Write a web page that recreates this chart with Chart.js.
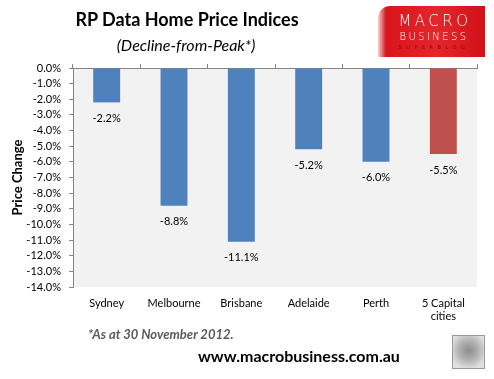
<!DOCTYPE html>
<html><head><meta charset="utf-8">
<script src="https://cdn.jsdelivr.net/npm/chart.js@4/dist/chart.umd.min.js"></script>
<style>
html,body{margin:0;padding:0;background:#fff;}
#wrap{position:relative;width:494px;height:379px;overflow:hidden;background:#fff;}
#c{position:absolute;left:0;top:0;}
.t{position:absolute;white-space:nowrap;font-family:Lato,"Noto Sans",sans-serif;line-height:1.2;}
</style></head><body>
<div id="wrap">
<canvas id="c" width="494" height="379"></canvas>
<div class="t" style="left:187px;top:9px;transform:translateX(-50%);font-size:18px;font-weight:bold;color:#000;">RP Data Home Price Indices</div>
<div class="t" style="left:186px;top:35px;transform:translateX(-50%);font-size:16px;font-style:italic;color:#000;">(Decline-from-Peak*)</div>
<div id="logo" style="position:absolute;left:378px;top:6px;width:107px;height:51px;background:linear-gradient(90deg,#f3d0d0 0px,#d8151b 8px,#e5262b 55%,#d01118 100%);border-radius:12px 0 0 0;">
  <div class="t" style="left:0;width:114px;top:8px;text-align:center;font-family:'DejaVu Sans',sans-serif;font-weight:200;font-size:15px;letter-spacing:3.5px;color:#fff;line-height:1;">MACRO</div>
  <div class="t" style="left:0;width:112px;top:26px;text-align:center;font-family:'DejaVu Sans',sans-serif;font-weight:200;font-size:10px;letter-spacing:2.4px;color:#fff;line-height:1;">BUSINESS</div>
  <div class="t" style="left:0;width:112px;top:39px;text-align:center;font-family:'DejaVu Sans',sans-serif;font-size:5px;letter-spacing:4.5px;color:#8a0508;line-height:1;">SUPERBLOG</div>
</div>
<div class="t" style="left:88px;top:327px;font-size:13px;font-weight:bold;font-style:italic;color:#595959;">*As at 30 November 2012.</div>
<div class="t" style="left:198px;top:346px;font-size:16px;font-weight:bold;color:#000;">www.macrobusiness.com.au</div>
<div style="position:absolute;left:452px;top:335px;width:31px;height:32px;border:1px solid #9a9a9a;background:radial-gradient(circle at 50% 45%,#8c8c8c 0,#b5b5b5 45%,#e0e0e0 80%);"></div>
</div>
<script>
// ---- data ----
const categories = ['Sydney', 'Melbourne', 'Brisbane', 'Adelaide', 'Perth', ['5 Capital', 'cities']];
const priceChange = [-2.2, -8.8, -11.1, -5.2, -6.0, -5.5];
const yMin = -14;
const yMax = 0;
const yStep = 1;

const plotBackground = {
  id: 'plotBackground',
  beforeDraw(chart) {
    const a = chart.chartArea, ctx = chart.ctx;
    ctx.save();
    ctx.fillStyle = '#F2F2F2';
    ctx.fillRect(a.left, a.top, a.right - a.left, a.bottom - a.top);
    ctx.restore();
  }
};
const valueLabels = {
  id: 'valueLabels',
  afterDatasetsDraw(chart) {
    const ctx = chart.ctx;
    const meta = chart.getDatasetMeta(0);
    ctx.save();
    ctx.font = '11px Lato';
    ctx.fillStyle = '#000';
    ctx.textAlign = 'center';
    ctx.textBaseline = 'middle';
    meta.data.forEach((bar, i) => {
      ctx.fillText(priceChange[i].toFixed(1) + '%', bar.x, bar.y + 16);
    });
    ctx.restore();
  }
};

new Chart(document.getElementById('c'), {
  type: 'bar',
  data: {
    labels: categories,
    datasets: [{
      data: priceChange,
      backgroundColor: (c) => c.dataIndex === categories.length - 1 ? '#C0504D' : '#4F81BD',
      barPercentage: 0.4,
      categoryPercentage: 1.0
    }]
  },
  options: {
    responsive: false,
    animation: false,
    layout: { padding: { top: 64, right: 17, bottom: 0, left: 0 } },
    plugins: { legend: { display: false }, tooltip: { enabled: false }, title: { display: false } },
    scales: {
      x: {
        position: 'bottom',
        grid: { display: false, drawTicks: false },
        border: { display: false },
        ticks: { font: { family: 'Lato', size: 11 }, color: '#000', padding: 10, maxRotation: 0, autoSkip: false },
        afterFit(s) { s.height = 92; }
      },
      x2: {
        type: 'category',
        labels: categories,
        position: 'top',
        offset: true,
        grid: { offset: true, drawOnChartArea: false, drawTicks: true, tickLength: 4, color: '#868686' },
        border: { display: true, color: '#868686' },
        ticks: { display: false },
        afterFit(s) { s.height = 4; }
      },
      y: {
        min: yMin,
        max: yMax,
        ticks: { stepSize: yStep, autoSkip: false, font: { family: 'Lato', size: 11 }, color: '#000', padding: 8,
                 callback: (v) => v.toFixed(1) + '%' },
        grid: { drawOnChartArea: false, tickLength: 4, color: '#868686' },
        border: { color: '#868686' },
        title: { display: true, text: 'Price Change', color: '#000', font: { family: 'Lato', size: 13, weight: 'bold' }, padding: { top: 10, bottom: 0 } },
        afterFit(s) { s.width = 73; }
      }
    }
  },
  plugins: [plotBackground, valueLabels]
});
</script>
</body></html>
